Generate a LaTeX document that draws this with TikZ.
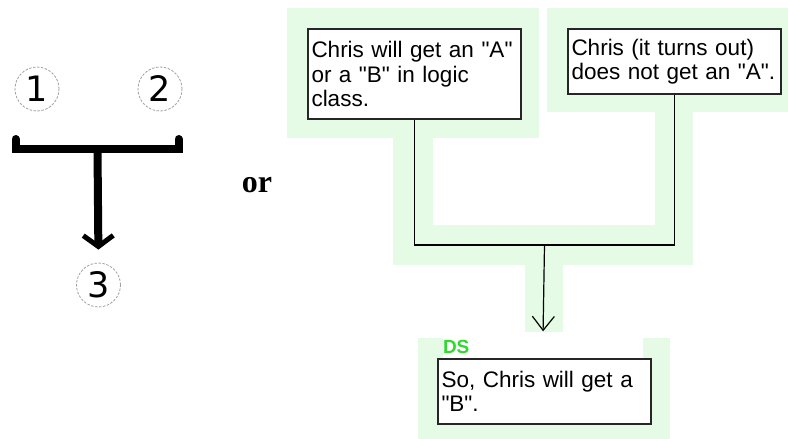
\documentclass[tikz,border=0pt]{standalone}
\usepackage{fontspec}
\setmainfont{Liberation Sans}[Ligatures=TeXOff]
\newfontfamily\numfont{DejaVu Sans}
\newfontfamily\orfont{Liberation Serif}
\usetikzlibrary{arrows.meta}

\definecolor{panelgreen}{RGB}{230,251,230}
\definecolor{dsgreen}{RGB}{45,218,45}

\tikzstyle{panel}=[fill=panelgreen]
\tikzstyle{claim}=[rectangle, draw=black!85, line width=1.4pt, fill=white, text width=206pt, inner xsep=3.5pt, align=left, font=\fontsize{22.5}{24.5}\selectfont]
\tikzstyle{dslabel}=[fill=white, text width=200pt, inner xsep=0pt, minimum height=21pt, align=left, text=dsgreen, font=\bfseries\fontsize{19}{19}\selectfont]
\tikzstyle{num}=[circle, draw=gray!75, line width=0.8pt, dash pattern=on 2.5pt off 1.5pt, minimum size=44pt, inner sep=0pt, font=\numfont\fontsize{35}{35}\selectfont]
\tikzstyle{bar}=[line width=8pt, line cap=round, line join=miter]
\tikzstyle{fatarrow}=[line width=8pt, -{Straight Barb[length=11pt,width=30pt,line width'=5pt]}]
\tikzstyle{thinarrow}=[line width=1.2pt, -{Straight Barb[length=14pt,width=22pt]}]

\begin{document}
\begin{tikzpicture}[x=1pt,y=-1pt]
\useasboundingbox (0,0) rectangle (788,439);

% green backdrop behind the argument map
\fill[panel] (287,8) rectangle (539,138);
\fill[panel] (547,8) rectangle (788,112);
\fill[panel] (393,138) rectangle (433,265);
\fill[panel] (393,225) rectangle (693,265);
\fill[panel] (655,112) rectangle (693,225);
\fill[panel] (525,265) rectangle (563,332);
\fill[panel] (418,338) rectangle (670,439);

% schematic on the left
\node (n1) [num] at (37,89) {1};
\node (n2) [num] at (160,89) {2};
\node (n3) [num] at (98.5,285) {3};
\coordinate (lend) at (15.5,139);
\coordinate (rend) at (178.5,139);
\coordinate (stem) at (97.5,149);
\draw[bar] (lend) |- (stem) -| (rend);
\draw[fatarrow, shorten >=13pt] (stem) -- (n3.north);

\node (or) at (257,185) {\orfont\bfseries\fontsize{32}{32}\selectfont or};

% premises and conclusion
\node (prem1) [claim, minimum height=90pt] at (414.5,74) {Chris will get an "A"\\ or a "B" in logic\\ class.};
\node (prem2) [claim, minimum height=65pt] at (674.5,61.5) {Chris (it turns out)\\ does not get an "A".};
\node (concl) [claim, minimum height=65pt] at (544.5,391.5) {So, Chris will get a\\ "B".};
\node (ds) [dslabel] at (543,347) {DS};

\coordinate (join) at (544.5,245);
\draw[line width=1.2pt] (prem1.south) |- (join) -| (prem2.south);
\draw[thinarrow, shorten >=5pt] (join) -- (ds.north);
\end{tikzpicture}
\end{document}
